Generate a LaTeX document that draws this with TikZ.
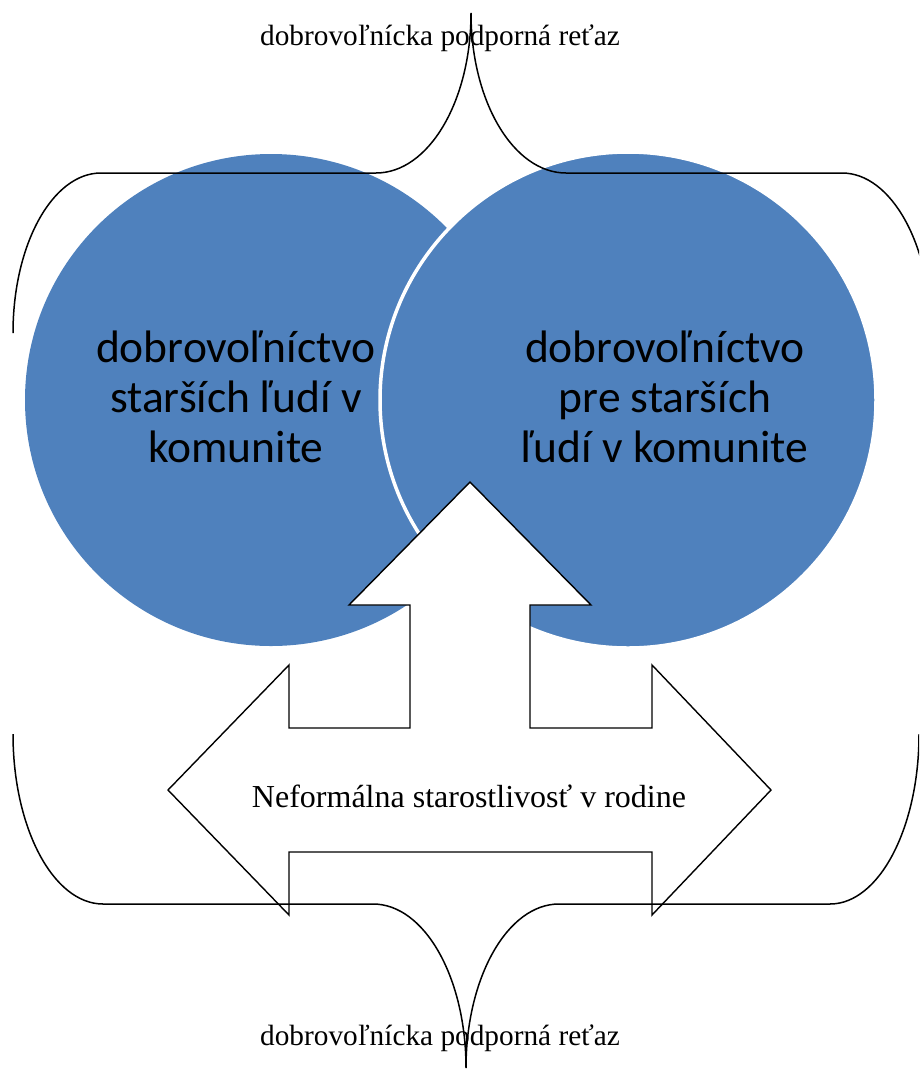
\documentclass[tikz,border=0pt]{standalone}
\usepackage{fontspec}
\setmainfont{Liberation Serif}
\newfontfamily\calib{Carlito}
\definecolor{vennblue}{HTML}{4F81BD}
\begin{document}
\begin{tikzpicture}[x=1pt,y=-1pt,
  disc/.style={fill=vennblue},
  topdisc/.style={fill=vennblue,draw=white,line width=3.5pt},
  bracepath/.style={draw=black,line width=1.5pt},
  arrowshape/.style={fill=white,draw=black,line width=1.4pt,line join=miter},
  disctext/.style={font=\calib\fontsize{45.5}{50}\selectfont,align=center,text=black,inner sep=0pt},
  serifsmall/.style={font=\fontsize{29.3}{32}\selectfont,inner sep=0pt,anchor=base},
  serifmid/.style={font=\fontsize{32}{36}\selectfont,inner sep=0pt,anchor=base}]
\useasboundingbox (0,0) rectangle (919,1069);
\clip (0,0) rectangle (919,1069);
% circles
\fill[disc] (271,400) circle[radius=246pt];
\filldraw[topdisc] (628,400) circle[radius=248pt];
% three-way arrow
\draw[arrowshape] (470,482) -- (591,605) -- (530,605) -- (530,728) -- (652,728)
  -- (652,665) -- (771,790) -- (652,915) -- (652,852) -- (289,852) -- (289,915)
  -- (168,790) -- (289,665) -- (289,728) -- (410,728) -- (410,605) -- (349,605) -- cycle;
% top brace
\coordinate (tl) at (13,333);
\coordinate (tt) at (471,13);
\coordinate (tr) at (931,333);
\draw[bracepath] (tl) .. controls (13,244.6) and (52.4,173) .. (101,173)
  -- (376,173) .. controls (428.5,173) and (471,101.4) .. (tt)
  .. controls (471,101.4) and (513.5,173) .. (566,173)
  -- (842,173) .. controls (891.2,173) and (931,244.6) .. (tr);
% bottom brace
\coordinate (bl) at (13,734);
\coordinate (bt) at (466,1068);
\coordinate (br) at (919,734);
\draw[bracepath] (bl) .. controls (13,827.9) and (53.3,904) .. (103,904)
  -- (373,904) .. controls (424.4,904) and (466,977.4) .. (bt)
  .. controls (466,977.4) and (507.6,904) .. (559,904)
  -- (830,904) .. controls (879,904) and (919,827.9) .. (br);
% texts
\node[disctext] (lefttext) at (236,397) {dobrovoľníctvo\\starších ľudí v\\komunite};
\node[disctext] (righttext) at (665,397) {dobrovoľníctvo\\pre starších\\ľudí v komunite};
\node[serifsmall] (toplabel) at (440,45) {dobrovoľnícka podporná reťaz};
\node[serifsmall] (bottomlabel) at (440,1045) {dobrovoľnícka podporná reťaz};
\node[serifmid] (midlabel) at (469,807) {Neformálna starostlivosť v rodine};
\end{tikzpicture}
\end{document}
